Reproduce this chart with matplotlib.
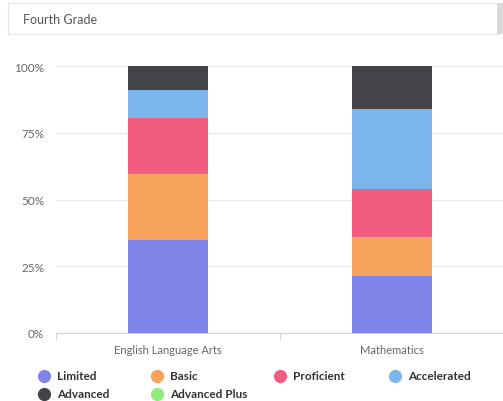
import matplotlib
matplotlib.use("Agg")
import matplotlib.pyplot as plt
import numpy as np
from matplotlib.patches import Rectangle
from matplotlib.lines import Line2D

plt.rcParams['font.family'] = ['Lato', 'DejaVu Sans']

grade = "Fourth Grade"
subjects = ["English Language Arts", "Mathematics"]
levels = ["Limited", "Basic", "Proficient", "Accelerated", "Advanced", "Advanced Plus"]
colors = ["#8085e9", "#f7a35c", "#f15c80", "#7cb5ec", "#434348", "#90ed7d"]

# percent of students at each level, per subject
limited     = [35, 21.5]
basic       = [24.5, 14.5]
proficient  = [21, 18]
accelerated = [10.5, 30]
advanced    = [9, 16]
adv_plus    = [0, 0]
series = [limited, basic, proficient, accelerated, advanced, adv_plus]

W, H = 503, 402
fig = plt.figure(figsize=(W / 100, H / 100), dpi=100)
ax = fig.add_axes([56 / W, 68 / H, 448 / W, 267 / H])

x = np.arange(len(subjects))
bottom = np.zeros(len(subjects))
for vals, col in zip(series, colors):
    ax.bar(x, vals, width=0.36, bottom=bottom, color=col, linewidth=0, zorder=3)
    bottom += np.array(vals)

ax.set_xlim(-0.5, 1.5)
ax.set_ylim(0, 100)
ax.set_yticks([0, 25, 50, 75, 100])
ax.set_yticklabels([f"{v}%" for v in [0, 25, 50, 75, 100]])
ax.yaxis.grid(True, color="#e6e6e6", linewidth=0.8, zorder=0)
ax.tick_params(axis="y", length=0, pad=8.5, labelsize=8.5, labelcolor="#666666")

ax.set_xticks(x)
ax.set_xticklabels(subjects)
ax.tick_params(axis="x", length=0, pad=8, labelsize=8, labelcolor="#666666")
# category boundary ticks
ax.set_xticks([-0.5, 0.5, 1.5], minor=True)
ax.tick_params(axis="x", which="minor", length=5, color="#ccd6eb", width=0.8)

for side in ["top", "right", "left"]:
    ax.spines[side].set_visible(False)
ax.spines["bottom"].set_color("#ccd6eb")
ax.spines["bottom"].set_linewidth(0.8)

# legend, two rows of four columns
legend_x = [44, 157, 280, 395]
legend_y = [377, 395]
for i, (name, col) in enumerate(zip(levels, colors)):
    cx = legend_x[i % 4] / W
    cy = 1 - legend_y[i // 4] / H
    fig.add_artist(Line2D([cx], [cy], marker="o", markersize=8.5, color=col,
                          linestyle="none", transform=fig.transFigure))
    fig.text(cx + 13 / W, cy, name, fontsize=8.5, fontweight="bold",
             color="#333333", va="center", ha="left")

# grade selector box
fig.add_artist(Rectangle((8 / W, 1 - 35 / H), 490 / W, 31 / H, transform=fig.transFigure,
                         facecolor="white", edgecolor="#e3e3e3", linewidth=0.8))
fig.add_artist(Rectangle((497 / W, 1 - 35 / H), 6 / W, 31 / H, transform=fig.transFigure,
                         facecolor="#d9d9d9", edgecolor="none"))
fig.text(23 / W, 1 - 20 / H, grade, fontsize=9, color="#555555", va="center", ha="left")

fig.savefig("out.png", dpi=100)
